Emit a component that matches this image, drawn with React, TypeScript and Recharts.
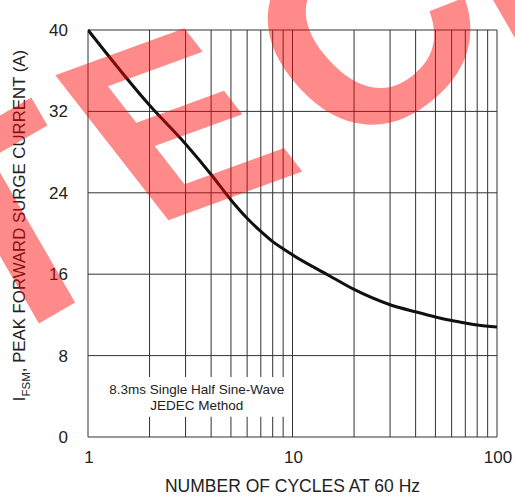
import React from 'react';
import { LineChart, Line, XAxis, YAxis, CartesianGrid, ReferenceArea, Label } from 'recharts';

// number of cycles (x, log scale) and peak forward surge current in A (y)
const cycles = [1, 2, 3, 4, 5, 6, 7, 8, 9, 10, 15, 20, 30, 40, 50, 60, 70, 80, 100];
const surgeAmps = [40, 32.6, 28.8, 25.8, 23.3, 21.5, 20.2, 19.2, 18.5, 17.9, 15.9, 14.5, 13.0, 12.3, 11.8, 11.45, 11.2, 11.0, 10.8];

const xGridTicks = [1, 2, 3, 4, 5, 6, 7, 8, 9, 10, 20, 30, 40, 50, 60, 70, 80, 90, 100];
const xLabelTicks = [1, 10, 100];
const yTicks = [0, 8, 16, 24, 32, 40];

const noteLines = ['8.3ms Single Half Sine-Wave', 'JEDEC Method'];

// watermark letters: glyph, anchor x/y, rotation, skew, font size
const stampLetters = [
  { ch: 'T', x: 57, y: 313, rot: -30, skew: 0, size: 290 },
  { ch: 'E', x: 232, y: 197, rot: -20, skew: 18, size: 254 },
  { ch: 'C', x: 430, y: 99, rot: -42, skew: 0, size: 280 },
  { ch: 'H', x: 618, y: 67, rot: -30, skew: 0, size: 254 },
];

const data = cycles.map((n, i) => ({ n, amps: surgeAmps[i] }));

const FONT = '"Liberation Sans", Arial, sans-serif';

const XTick = (props: any) => {
  const { x, y, payload } = props;
  if (!xLabelTicks.includes(payload.value)) return null;
  return (
    <text x={x + 1} y={y} dy="0.71em" textAnchor="middle" fontFamily={FONT} fontSize={17} fill="#222">
      {payload.value}
    </text>
  );
};

const YTitle = (props: any) => {
  const vb = props.viewBox;
  const cx = vb.x + 25;
  const cy = vb.y + vb.height / 2 - 8;
  return (
    <text transform={`translate(${cx},${cy}) rotate(-90)`} textAnchor="middle" fontFamily={FONT} fontSize={16.8} fill="#222">
      I<tspan fontSize={11.5} dy={5}>FSM</tspan>
      <tspan dy={-5}>, PEAK FORWARD SURGE CURRENT (A)</tspan>
    </text>
  );
};

const Note = (props: any) => {
  const vb = props.viewBox;
  const cx = vb.x + vb.width / 2 + 4;
  const cy = vb.y + vb.height / 2;
  return (
    <g>
      {noteLines.map((t, i) => (
        <text key={t} x={cx} y={cy - 3 + i * 16} textAnchor="middle" fontFamily={FONT} fontSize={13.5} fill="#222">
          {t}
        </text>
      ))}
    </g>
  );
};

export default function App() {
  return (
    <div style={{ position: 'absolute', left: 0, top: 0, width: 515, height: 497, background: '#fff', overflow: 'hidden' }}>
      <LineChart width={515} height={497} data={data} margin={{ top: 30, right: 18, bottom: 0, left: 0 }}>
        <CartesianGrid stroke="#333" />
        <XAxis
          dataKey="n"
          type="number"
          scale="log"
          domain={[1, 100]}
          ticks={xGridTicks}
          interval={0}
          allowDataOverflow
          axisLine={false}
          tickLine={false}
          tickSize={0}
          tickMargin={14}
          height={60}
          tick={<XTick />}
        >
          <Label value="NUMBER OF CYCLES AT 60 Hz" position="insideBottom" offset={5} fontFamily={FONT} fontSize={17.5} fill="#222" />
        </XAxis>
        <YAxis
          type="number"
          domain={[0, 40]}
          ticks={yTicks}
          width={88}
          axisLine={false}
          tickLine={false}
          tickSize={0}
          tickMargin={20}
          tick={{ fontFamily: FONT, fontSize: 17, fill: '#222' }}
          label={<YTitle />}
        />
        <ReferenceArea x1={1.1} x2={9.6} y1={2} y2={5.9} fill="#fff" fillOpacity={1} stroke="none" label={<Note />} />
        <Line type="monotone" dataKey="amps" stroke="#111" strokeWidth={3} dot={false} isAnimationActive={false} />
      </LineChart>
      <svg width={515} height={497} style={{ position: 'absolute', left: 0, top: 0, pointerEvents: 'none' }}>
        {stampLetters.map((l) => (
          <text
            key={l.ch}
            transform={`translate(${l.x},${l.y}) rotate(${l.rot}) skewX(${l.skew})`}
            textAnchor="middle"
            fontFamily={FONT}
            fontWeight="bold"
            fontSize={l.size}
            fill="#ff0000"
            fillOpacity={0.46}
          >
            {l.ch}
          </text>
        ))}
      </svg>
    </div>
  );
}
